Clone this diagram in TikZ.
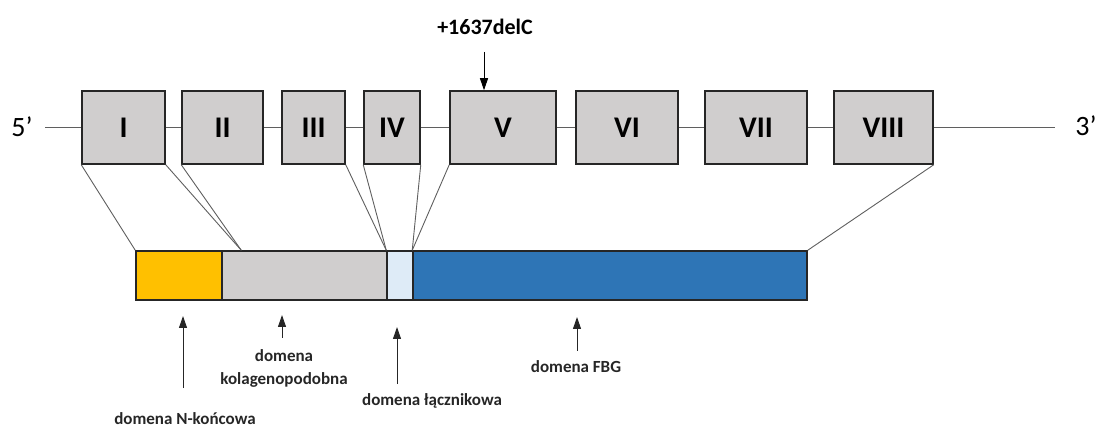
\documentclass[tikz,border=0pt]{standalone}
\usepackage{fontspec}
\setmainfont{Carlito}
\usetikzlibrary{arrows.meta, positioning, calc}
\definecolor{exongray}{RGB}{208, 206, 206}
\definecolor{ntermcolor}{RGB}{255, 192, 0}
\definecolor{linkercolor}{RGB}{222, 235, 247}
\definecolor{fbgcolor}{RGB}{46, 117, 182}
\definecolor{linegray}{RGB}{95, 95, 95}
\tikzstyle{exon_box} = [rectangle, draw=black!85, line width=1.5pt, fill=exongray, minimum height=73pt, inner sep=0pt, font=\fontsize{30}{36}\selectfont\bfseries]
\tikzstyle{domain_box} = [rectangle, draw=black!85, line width=1.5pt, minimum height=49pt, inner sep=0pt]
\tikzstyle{map_line} = [linegray, line width=0.9pt]
\tikzstyle{arrow} = [black!85, line width=1pt, -{Triangle[length=12pt, width=8pt]}]
\tikzstyle{description} = [font=\fontsize{17}{23}\selectfont\bfseries, align=center, black!85]
\tikzstyle{end_label} = [font=\fontsize{28}{32}\selectfont]

\begin{document}
\begin{tikzpicture}[x=1pt, y=-1pt]
\useasboundingbox (0,0) rectangle (1098,430);

% Gene backbone ends
\node[end_label] (five) at (22,127) {5’};
\node[end_label] (three) at (1086,126) {3’};
\coordinate (start5) at (45,127.5);
\coordinate (end3) at (1055,127.5);

% Exons
\node[exon_box, minimum width=83pt] (e1) at (123.5,127.5) {I};
\node[exon_box, minimum width=81pt] (e2) at (222.5,127.5) {II};
\node[exon_box, minimum width=63pt] (e3) at (313.5,127.5) {III};
\node[exon_box, minimum width=56pt] (e4) at (392,127.5) {IV};
\node[exon_box, minimum width=106pt] (e5) at (503,127.5) {V};
\node[exon_box, minimum width=102pt] (e6) at (627,127.5) {VI};
\node[exon_box, minimum width=102pt] (e7) at (756,127.5) {VII};
\node[exon_box, minimum width=99pt] (e8) at (883.5,127.5) {VIII};

% Introns
\draw[map_line] (start5) -- (e1.west);
\foreach \a/\b in {e1/e2, e2/e3, e3/e4, e4/e5, e5/e6, e6/e7, e7/e8}
  \draw[map_line] (\a.east) -- (\b.west);
\draw[map_line] (e8.east) -- (end3);

% Mutation
\node[font=\fontsize{22}{26}\selectfont\bfseries] (mut) at (485,27) {+1637delC};
\coordinate (mutstart) at (484,52);
\draw[arrow, black] (mutstart) -- (mutstart |- e5.north);

% Protein domains
\node[domain_box, fill=ntermcolor, minimum width=86pt] (nterm) at (179,275.5) {};
\node[domain_box, fill=exongray, minimum width=165pt] (kolag) at (304.5,275.5) {};
\node[domain_box, fill=linkercolor, minimum width=26pt] (linker) at (400,275.5) {};
\node[domain_box, fill=fbgcolor, minimum width=394pt] (fbg) at (610,275.5) {};

% Exon to domain mapping
\coordinate (kjoin) at ($ (kolag.north west) + (20,0) $);
\draw[map_line] (e1.south west) -- (nterm.north west);
\draw[map_line] (e1.south east) -- (kjoin);
\draw[map_line] (e2.south west) -- (kjoin);
\draw[map_line] (e3.south east) -- (linker.north west);
\draw[map_line] (e4.south west) -- (linker.north west);
\draw[map_line] (e4.south east) -- (fbg.north west);
\draw[map_line] (e5.south west) -- (fbg.north west);
\draw[map_line] (e8.south east) -- (fbg.north east);

% Domain labels
\node[description] (ntermd) at (185,419) {domena N-końcowa};
\node[description] (kolagd) at (284,368) {domena\\kolagenopodobna};
\node[description] (linkerd) at (432,401) {domena łącznikowa};
\node[description] (fbgd) at (576,367) {domena FBG};

\coordinate (ntermtail) at (183,388);
\coordinate (kolagtail) at (282,338);
\coordinate (linkertail) at (397,384);
\coordinate (fbgtail) at (577,351);
\draw[arrow] (ntermtail) -- ++(0,-72);
\draw[arrow] (kolagtail) -- ++(0,-23);
\draw[arrow] (linkertail) -- ++(0,-57);
\draw[arrow] (fbgtail) -- ++(0,-34);

\end{tikzpicture}
\end{document}
